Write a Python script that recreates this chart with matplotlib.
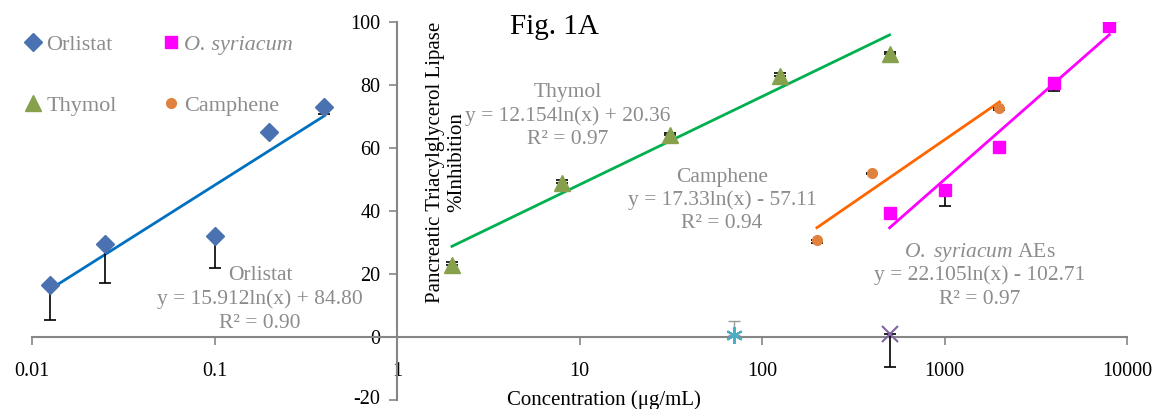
"""
Fig. 1A - pancreatic triacylglycerol lipase inhibition vs concentration.
Log-fit trendlines for Orlistat, Thymol, Camphene and O. syriacum AEs.
"""

import numpy as np
import matplotlib

matplotlib.use("Agg")
import matplotlib.pyplot as plt
from matplotlib.transforms import ScaledTranslation

# Data
ORLISTAT_X = [0.0125, 0.025, 0.1, 0.2, 0.4]
ORLISTAT_Y = [16.5, 29.5, 32.2, 65.2, 73.1]
ORLISTAT_ERR = [11.0, 12.5, 10.3, 0.8, 2.3]

THYMOL_X = [2, 8, 31.25, 125, 500]
THYMOL_Y = [22.9, 48.9, 64.0, 82.9, 89.8]
THYMOL_ERR = [0.8, 0.8, 0.8, 0.8, 0.8]

CAMPHENE_X = [200, 400, 2000]
CAMPHENE_Y = [30.7, 52.2, 72.6]
CAMPHENE_ERR = [0.8, 0.5, 0.5]

SYRIACUM_X = [500, 1000, 2000, 4000, 8000]
SYRIACUM_Y = [39.4, 46.7, 60.4, 80.5, 98.8]
SYRIACUM_ERR = [0.8, 5.0, 0.3, 2.5, 0.3]

# two inactive samples sitting on the zero line
STAR_X = [70]
STAR_Y = [0.6]
STAR_ERR = [4.6]
CROSS_X = [500]
CROSS_Y = [0.9]
CROSS_ERR = [10.5]

# trendline coefficients y = a ln(x) + b, as printed on the chart
FIT_A = {"Orlistat": 15.912, "Thymol": 12.154, "Camphene": 17.33, "Syriacum": 22.105}
FIT_B = {"Orlistat": 84.80, "Thymol": 20.36, "Camphene": -57.11, "Syriacum": -102.71}

X_TICKS = [0.01, 0.1, 1, 10, 100, 1000, 10000]
X_TICK_LABELS = ["0.01", "0.1", "1", "10", "100", "1000", "10000"]
Y_TICKS = [-20, 0, 20, 40, 60, 80, 100]

GREY_TEXT = "#8c8c8c"
AXIS_GREY = "#868686"


def trend(ax, name, xs, color):
    """Draw the log trendline over the data range."""
    x = np.geomspace(min(xs), max(xs), 60)
    ax.plot(x, FIT_A[name] * np.log(x) + FIT_B[name], color=color, lw=2.0,
            zorder=2)


def label_block(fig, cx, top, lines, step=23.5):
    """Trendline label: centred grey lines, one text per line (pixel coords)."""
    for i, line in enumerate(lines):
        fig.text(cx / 1156, 1 - (top + i * step) / 409, line, color=GREY_TEXT,
                 fontsize=15.5, ha="center", va="center")


def main():
    plt.rcParams["font.family"] = ["Liberation Serif", "DejaVu Serif"]
    plt.rcParams["mathtext.fontset"] = "custom"
    plt.rcParams["mathtext.rm"] = "Liberation Serif"
    plt.rcParams["mathtext.it"] = "Liberation Serif:italic"
    plt.rcParams["axes.unicode_minus"] = False

    fig = plt.figure(figsize=(11.56, 4.09), dpi=100)
    ax = fig.add_axes([32 / 1156, 1 - 400 / 409, (1127 - 32) / 1156, (400 - 22) / 409])
    ax.set_xscale("log")
    ax.set_xlim(0.01, 10000)
    ax.set_ylim(-20, 100)

    # axes cross at x=1, y=0
    ax.spines["left"].set_position(("data", 1))
    ax.spines["bottom"].set_position(("data", 0))
    for side in ["top", "right"]:
        ax.spines[side].set_visible(False)
    for side in ["left", "bottom"]:
        ax.spines[side].set_color(AXIS_GREY)
        ax.spines[side].set_linewidth(1.5)

    ax.set_xticks(X_TICKS)
    ax.set_xticklabels(X_TICK_LABELS)
    ax.xaxis.set_minor_locator(matplotlib.ticker.NullLocator())
    ax.set_yticks(Y_TICKS)
    ax.tick_params(axis="x", direction="out", length=6, width=1.2,
                   color=AXIS_GREY, labelsize=14.5, pad=12)
    ax.tick_params(axis="y", direction="out", length=6, width=1.2,
                   color=AXIS_GREY, labelsize=14.5, pad=6)

    # keep the -20 label inside the canvas
    bottom_lbl = ax.get_yticklabels()[0]
    bottom_lbl.set_transform(bottom_lbl.get_transform()
                             + ScaledTranslation(0, 3 / 100, fig.dpi_scale_trans))

    # trendlines
    trend(ax, "Orlistat", ORLISTAT_X, "#0070c0")
    trend(ax, "Thymol", THYMOL_X, "#00b050")
    trend(ax, "Camphene", CAMPHENE_X, "#ff6600")
    trend(ax, "Syriacum", SYRIACUM_X, "#ff00ff")

    eb = dict(ecolor="black", elinewidth=1.2, capsize=4, capthick=1.2, ls="none")
    ax.errorbar(ORLISTAT_X, ORLISTAT_Y, yerr=[ORLISTAT_ERR, [0] * 5], **eb, zorder=3)
    ax.errorbar(THYMOL_X, THYMOL_Y, yerr=[[0] * 5, THYMOL_ERR], **eb, zorder=3)
    ax.errorbar(CAMPHENE_X, CAMPHENE_Y, yerr=[CAMPHENE_ERR, [0] * 3], **eb, zorder=3)
    ax.errorbar(SYRIACUM_X, SYRIACUM_Y, yerr=[SYRIACUM_ERR, [0] * 5], **eb, zorder=3)
    ax.errorbar(CROSS_X, CROSS_Y, yerr=[CROSS_ERR, [0]], **eb, zorder=3)
    ax.errorbar(STAR_X, STAR_Y, yerr=[[0], STAR_ERR], ecolor="#9a9a9a",
                elinewidth=1.0, capsize=4, capthick=1.0, ls="none", zorder=3)

    h_orl, = ax.plot(ORLISTAT_X, ORLISTAT_Y, "D", ms=9.5, color="#4a72b0",
                     ls="none", zorder=4, label="Orlistat")
    h_thy, = ax.plot(THYMOL_X, THYMOL_Y, "^", ms=11, color="#86a04c",
                     ls="none", zorder=4, label="Thymol")
    h_cam, = ax.plot(CAMPHENE_X, CAMPHENE_Y, "o", ms=7, color="#e0823d",
                     ls="none", zorder=4, label="Camphene")
    h_syr, = ax.plot(SYRIACUM_X, SYRIACUM_Y, "s", ms=8, color="#ff00ff",
                     ls="none", zorder=4, label="O. syriacum")
    ax.plot(STAR_X, STAR_Y, marker=(6, 2, 0), ms=12, mew=1.5, color="#4bacc6",
            ls="none", zorder=4)
    ax.plot(CROSS_X, CROSS_Y, "x", ms=11, mew=1.5, color="#8064a2",
            ls="none", zorder=4)

    # legend, two columns, grey text
    leg = ax.legend([h_orl, h_thy, h_syr, h_cam],
                    ["Orlistat", "Thymol", "O. syriacum", "Camphene"],
                    ncol=2, frameon=False, loc="upper left",
                    bbox_to_anchor=(25 / 1156, 1 - 34 / 409),
                    bbox_transform=fig.transFigure, fontsize=16,
                    handlelength=0.7, handletextpad=0.25, labelspacing=1.85,
                    columnspacing=2.1, borderaxespad=0, borderpad=0)
    for t in leg.get_texts():
        t.set_color(GREY_TEXT)
    leg.get_texts()[2].set_fontstyle("italic")

    # trendline labels
    label_block(fig, 568, 93, ["Thymol", "y = 12.154ln(x) + 20.36", "R² = 0.97"])
    label_block(fig, 722, 177, ["Camphene", "y = 17.33ln(x) - 57.11", "R² = 0.94"])
    label_block(fig, 260, 276, ["Orlistat", "y = 15.912ln(x) + 84.80", "R² = 0.90"])
    label_block(fig, 980, 252, [r"$\it{O.\ syriacum}$ AEs",
                                "y = 22.105ln(x) - 102.71", "R² = 0.97"])

    # axis titles
    fig.text(446 / 1156, 1 - 162 / 409,
             "Pancreatic Triacylglycerol Lipase\n%Inhibition", rotation=90,
             ha="center", va="center", fontsize=15, linespacing=1.15)
    fig.text(604 / 1156, 1 - 400 / 409, "Concentration (μg/mL)",
             ha="center", va="center", fontsize=15)
    fig.text(554 / 1156, 1 - 27 / 409, "Fig. 1A", ha="center", va="center",
             fontsize=21)

    fig.savefig("out.png", dpi=100)
    return 0


if __name__ == "__main__":
    main()
